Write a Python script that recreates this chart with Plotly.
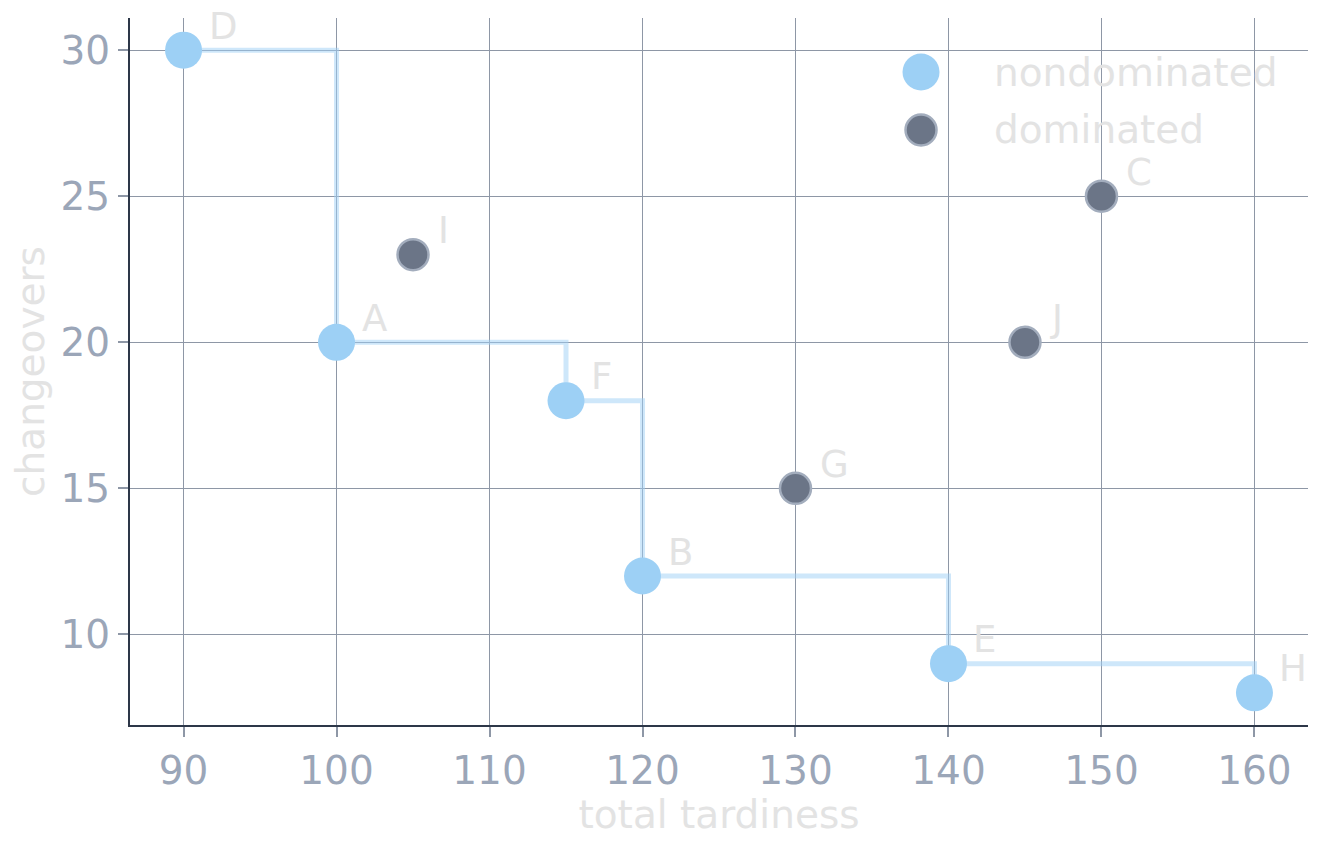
import plotly.graph_objects as go

# pareto front (nondominated) and the rest
nondom_names = ["D", "A", "F", "B", "E", "H"]
nondom_tardiness = [90, 100, 115, 120, 140, 160]
nondom_changeovers = [30, 20, 18, 12, 9, 8]

dom_names = ["I", "G", "J", "C"]
dom_tardiness = [105, 130, 145, 150]
dom_changeovers = [23, 15, 20, 25]

x_ticks = [90, 100, 110, 120, 130, 140, 150, 160]
y_ticks = [10, 15, 20, 25, 30]

FONT = "DejaVu Sans"
BLUE = "#9dd0f5"
DARK = "#6b7587"
TICK_COLOR = "#9ba6b8"
FAINT = "#e3e3e3"
GRID = "#8e97a6"
SPINE = "#2d3748"

fig = go.Figure()

# step line along the front
fig.add_trace(go.Scatter(
    x=nondom_tardiness,
    y=nondom_changeovers,
    mode="lines",
    line=dict(shape="hv", color="rgba(157,208,245,0.5)", width=5),
    showlegend=False,
    hoverinfo="skip",
))

fig.add_trace(go.Scatter(
    x=nondom_tardiness,
    y=nondom_changeovers,
    mode="markers",
    name="nondominated",
    marker=dict(size=37, color=BLUE, line=dict(width=0)),
    showlegend=False,
))

fig.add_trace(go.Scatter(
    x=dom_tardiness,
    y=dom_changeovers,
    mode="markers",
    name="dominated",
    marker=dict(size=31, color=DARK, line=dict(width=2.5, color="#a3adbd")),
    showlegend=False,
))

# point labels
annotations = []
for names, xs, ys in [(nondom_names, nondom_tardiness, nondom_changeovers),
                      (dom_names, dom_tardiness, dom_changeovers)]:
    for n, xv, yv in zip(names, xs, ys):
        annotations.append(dict(
            x=xv, y=yv, text=n, showarrow=False,
            xanchor="left", yanchor="middle",
            xshift=23, yshift=24,
            font=dict(family=FONT, size=37, color=FAINT),
        ))

# hand-made legend (big markers like the original)
legend_items = [("nondominated", BLUE, None, 37, 0.9236),
                ("dominated", DARK, "#a3adbd", 31, 0.8416)]
shapes = []
for label, fill, edge, size, ypos in legend_items:
    shapes.append(dict(
        type="circle", xref="paper", yref="paper",
        xsizemode="pixel", ysizemode="pixel",
        xanchor=0.6715, yanchor=ypos,
        x0=-size / 2, x1=size / 2, y0=-size / 2, y1=size / 2,
        fillcolor=fill,
        line=dict(width=2.5 if edge else 0, color=edge or fill),
    ))
    annotations.append(dict(
        x=0.7317, y=ypos, xref="paper", yref="paper",
        text=label, showarrow=False, xanchor="left", yanchor="middle",
        font=dict(family=FONT, size=39, color=FAINT),
    ))

# page has an 8px body margin, so the figure is a bit smaller than the window
fig.update_layout(
    width=1304,
    height=829,
    margin=dict(l=122, r=4, t=10, b=112),
    paper_bgcolor="white",
    plot_bgcolor="white",
    font=dict(family=FONT, size=39, color=TICK_COLOR),
    annotations=annotations,
    shapes=shapes,
    xaxis=dict(
        range=[86.5, 163.5],
        tickvals=x_ticks,
        showgrid=True, gridcolor=GRID, gridwidth=1,
        zeroline=False,
        showline=True, linecolor=SPINE, linewidth=2,
        ticks="outside", ticklen=10, tickcolor=GRID, tickwidth=1.5,
        tickfont=dict(family=FONT, size=39, color=TICK_COLOR),
        title=dict(text="total tardiness", standoff=12,
                   font=dict(family=FONT, size=39, color=FAINT)),
    ),
    yaxis=dict(
        range=[6.9, 31.1],
        tickvals=y_ticks,
        showgrid=True, gridcolor=GRID, gridwidth=1,
        zeroline=False,
        showline=True, linecolor=SPINE, linewidth=2,
        ticks="outside", ticklen=10, tickcolor=GRID, tickwidth=1.5,
        tickfont=dict(family=FONT, size=39, color=TICK_COLOR),
        title=dict(text="changeovers", standoff=14,
                   font=dict(family=FONT, size=39, color=FAINT)),
    ),
)

fig.write_html("out.html")
